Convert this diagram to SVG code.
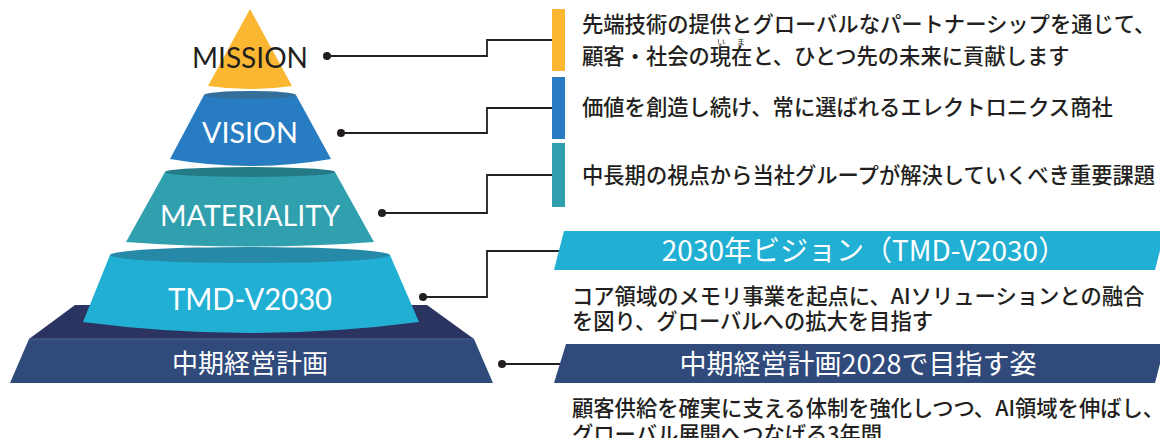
<svg xmlns="http://www.w3.org/2000/svg" width="1160" height="438" viewBox="0 0 1160 438">
<style>
.lat{font-family:"Lato","Noto Sans","Liberation Sans",sans-serif;text-anchor:middle}
.jp{font-family:"Noto Sans CJK JP","Noto Sans",sans-serif;fill:#231f20;font-size:21.3px;font-weight:500}
.jpw{font-family:"Noto Sans CJK JP","Noto Sans",sans-serif;fill:#ffffff;text-anchor:middle}
.ruby{font-family:"Noto Sans CJK JP",sans-serif;fill:#231f20;font-size:8px;text-anchor:middle}
.conn{fill:none;stroke:#231f20;stroke-width:1.8}
.dot{fill:#231f20}
</style>
<g id="base">
<polygon points="75,305 427,305 474,339 29,339" fill="#2b3461"/>
<polygon points="29,339 474,339 493,383 10,383" fill="#2f4a7b"/>
<line x1="29" y1="339" x2="474" y2="339" stroke="#4d6796" stroke-width="1"/>
<text class="jpw" x="250" y="373" font-size="26">中期経営計画</text>
</g>
<g id="tmd">
<path d="M110,255 L390,255 L419,322 Q250,344 83,322 Z" fill="#22afd4"/>
<ellipse cx="250" cy="255" rx="140" ry="8" fill="#2689a8"/>
<text class="lat" x="250" y="310" font-size="30" fill="#ffffff" textLength="164" lengthAdjust="spacingAndGlyphs">TMD-V2030</text>
</g>
<g id="materiality">
<path d="M165,172 L335,172 L374,242 Q250,251 126,242 Z" fill="#309fae"/>
<ellipse cx="250" cy="172" rx="85" ry="5" fill="#257a87"/>
<text class="lat" x="250" y="226" font-size="29" fill="#ffffff" textLength="180" lengthAdjust="spacingAndGlyphs">MATERIALITY</text>
</g>
<g id="vision">
<path d="M204,95 L296,95 L331,159 Q250,173 170,159 Z" fill="#277cc2"/>
<ellipse cx="250" cy="95" rx="46" ry="4" fill="#346f9a"/>
<text class="lat" x="250" y="143" font-size="28" fill="#ffffff" textLength="96" lengthAdjust="spacingAndGlyphs">VISION</text>
</g>
<g id="mission">
<path d="M250,9 L292,86 Q250,92 208,86 Z" fill="#fbb731"/>
<text class="lat" x="250" y="68" font-size="28" fill="#231f20" textLength="116" lengthAdjust="spacingAndGlyphs">MISSION</text>
</g>
<g id="connectors">
<polyline class="conn" points="327,56 487,56 487,40 552,40"/>
<circle class="dot" cx="327" cy="56" r="4"/>
<polyline class="conn" points="341,133 487,133 487,108 552,108"/>
<circle class="dot" cx="341" cy="133" r="4"/>
<polyline class="conn" points="382,213 487,213 487,175 552,175"/>
<circle class="dot" cx="382" cy="213" r="4"/>
<polyline class="conn" points="423,297 487,297 487,251 560,251"/>
<circle class="dot" cx="423" cy="297" r="4"/>
<polyline class="conn" points="502,364 560,364"/>
<circle class="dot" cx="502" cy="364" r="4"/>
</g>
<g id="mission-text">
<rect x="552" y="9" width="13" height="62" fill="#fbb731"/>
<text class="jp" x="582" y="32">先端技術の提供とグローバルなパートナーシップを通じて、</text>
<text class="ruby" x="721" y="44.5">い</text>
<text class="ruby" x="741" y="44.5">ま</text>
<text class="jp" x="582" y="64">顧客・社会の現在と、ひとつ先の未来に貢献します</text>
</g>
<g id="vision-text">
<rect x="552" y="77" width="13" height="62" fill="#277cc2"/>
<text class="jp" x="582" y="115">価値を創造し続け、常に選ばれるエレクトロニクス商社</text>
</g>
<g id="materiality-text">
<rect x="552" y="143" width="13" height="64" fill="#309fae"/>
<text class="jp" x="582" y="183">中長期の視点から当社グループが解決していくべき重要課題</text>
</g>
<g id="tmd-text">
<polygon points="564,231 1165,231 1155,270 554,270" fill="#22afd4"/>
<text class="jpw" x="864" y="261" font-size="28">2030年ビジョン（TMD-V2030）</text>
<text class="jp" x="572" y="304">コア領域のメモリ事業を起点に、AIソリューションとの融合</text>
<text class="jp" x="572" y="329">を図り、グローバルへの拡大を目指す</text>
</g>
<g id="plan-text">
<polygon points="566,344 1165,344 1155,383 554,383" fill="#2f4a7b"/>
<text class="jpw" x="858" y="374" font-size="27">中期経営計画2028で目指す姿</text>
<text class="jp" x="572" y="416">顧客供給を確実に支える体制を強化しつつ、AI領域を伸ばし、</text>
<text class="jp" x="572" y="442">グローバル展開へつなげる3年間</text>
</g>
</svg>
